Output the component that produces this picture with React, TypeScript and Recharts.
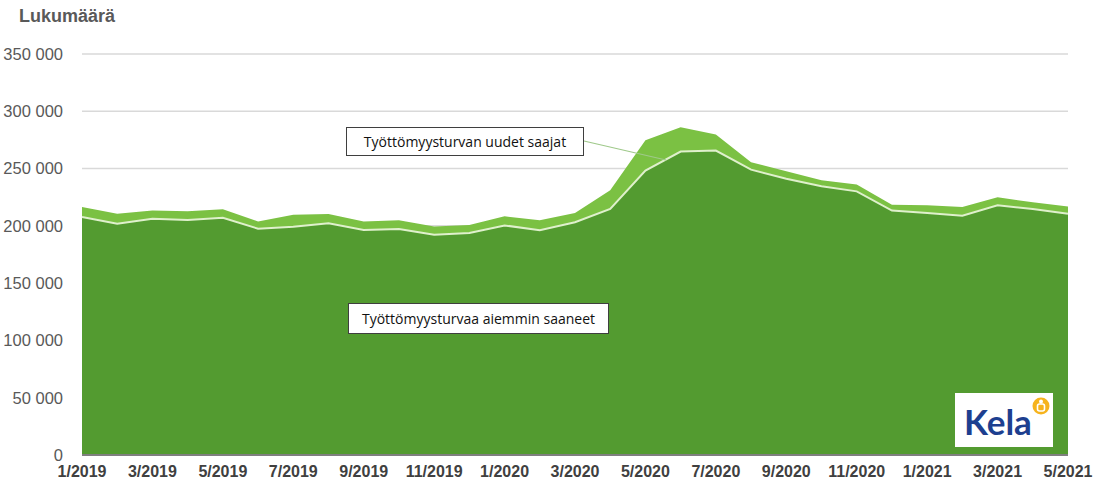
import React from 'react';
import { AreaChart, Area, Line, XAxis, YAxis, CartesianGrid } from 'recharts';

const months = [
  '1/2019', '2/2019', '3/2019', '4/2019', '5/2019', '6/2019', '7/2019', '8/2019', '9/2019', '10/2019', '11/2019', '12/2019',
  '1/2020', '2/2020', '3/2020', '4/2020', '5/2020', '6/2020', '7/2020', '8/2020', '9/2020', '10/2020', '11/2020', '12/2020',
  '1/2021', '2/2021', '3/2021', '4/2021', '5/2021',
];

// Työttömyysturvaa aiemmin saaneet
const previousRecipients = [
  207700, 201900, 206300, 205100, 207100, 197500, 199300, 202200, 196400, 197300, 192300, 193800,
  200400, 196100, 203100, 214700, 248200, 264800, 265700, 249100, 241200, 234500, 230100, 213300,
  211200, 208900, 217900, 214700, 210600,
];

// Työttömyysturvan uudet saajat
const newRecipients = [
  8800, 8700, 7200, 7600, 7300, 6400, 10500, 8200, 7500, 7500, 7200, 6900,
  7900, 8700, 8100, 16300, 26500, 21300, 14000, 6400, 6400, 5200, 5900, 5200,
  6700, 7600, 7000, 5800, 6400,
];

const yTicks = [0, 50000, 100000, 150000, 200000, 250000, 300000, 350000];

const data = months.map((m, i) => ({
  month: m,
  prev: previousRecipients[i],
  uudet: newRecipients[i],
}));

const formatY = (v: number) => (v === 0 ? '0' : v.toLocaleString('fi-FI').replace(/\s/g, ' '));

const boxStyle: React.CSSProperties = {
  position: 'absolute',
  border: '1.5px solid #3f3f3f',
  background: '#fff',
  fontFamily: '"Open Sans", sans-serif',
  fontSize: 14,
  color: '#111',
  boxSizing: 'border-box',
  display: 'flex',
  alignItems: 'center',
  justifyContent: 'center',
};

const App: React.FC = () => {
  return (
    <div style={{ position: 'absolute', left: 0, top: 0, width: 1105, height: 482, background: '#fff', fontFamily: '"Liberation Sans", Arial, sans-serif' }}>
      <div style={{ position: 'absolute', left: 19, top: 6, fontSize: 18, fontWeight: 'bold', color: '#595959' }}>Lukumäärä</div>
      <AreaChart width={1105} height={482} data={data} margin={{ top: 54, right: 37, left: 0, bottom: 0 }}>
        <CartesianGrid vertical={false} stroke="#d9d9d9" strokeWidth={1.5} />
        <XAxis
          dataKey="month"
          interval={1}
          tickLine={false}
          axisLine={{ stroke: '#7f7f7f', strokeWidth: 2 }}
          tick={{ fontSize: 16, fontWeight: 'bold', fill: '#404040' }}
          tickMargin={5}
          height={27}
        />
        <YAxis
          domain={[0, 350000]}
          ticks={yTicks}
          tickFormatter={formatY}
          tickLine={false}
          axisLine={false}
          width={82}
          tickMargin={13}
          tick={{ fontSize: 16.5, fill: '#595959' }}
        />
        <Area type="linear" dataKey="prev" stackId="a" stroke="none" fill="#539b30" fillOpacity={1} isAnimationActive={false} />
        <Area type="linear" dataKey="uudet" stackId="a" stroke="none" fill="#7bc143" fillOpacity={1} isAnimationActive={false} />
        <Line type="linear" dataKey="prev" stroke="#dff0cc" strokeWidth={2} dot={false} activeDot={false} isAnimationActive={false} />
      </AreaChart>
      <svg width={1105} height={482} style={{ position: 'absolute', left: 0, top: 0, pointerEvents: 'none' }}>
        <line x1={584} y1={141} x2={666} y2={160} stroke="#9fc98a" strokeWidth={1.2} />
      </svg>
      <div style={{ ...boxStyle, left: 346, top: 127, width: 238, height: 29 }}>Työttömyysturvan uudet saajat</div>
      <div style={{ ...boxStyle, left: 348, top: 303, width: 261, height: 31 }}>Työttömyysturvaa aiemmin saaneet</div>
      <div style={{ position: 'absolute', left: 955, top: 393, width: 98, height: 54, background: '#fff' }}>
        <div style={{ position: 'absolute', left: 9, top: 8, fontFamily: 'Lato, "Open Sans", sans-serif', fontWeight: 'bold', fontSize: 35, color: '#1d3f8f', lineHeight: '40px' }}>Kela</div>
        <svg width={98} height={54} style={{ position: 'absolute', left: 0, top: 0 }}>
          <circle cx={86} cy={13} r={8.5} fill="#f6b31d" />
          <circle cx={86} cy={8.5} r={2} fill="#fff" />
          <rect x={82.5} y={11} width={7} height={7} rx={2} fill="none" stroke="#fff" strokeWidth={1.6} />
        </svg>
      </div>
    </div>
  );
};

export default App;
